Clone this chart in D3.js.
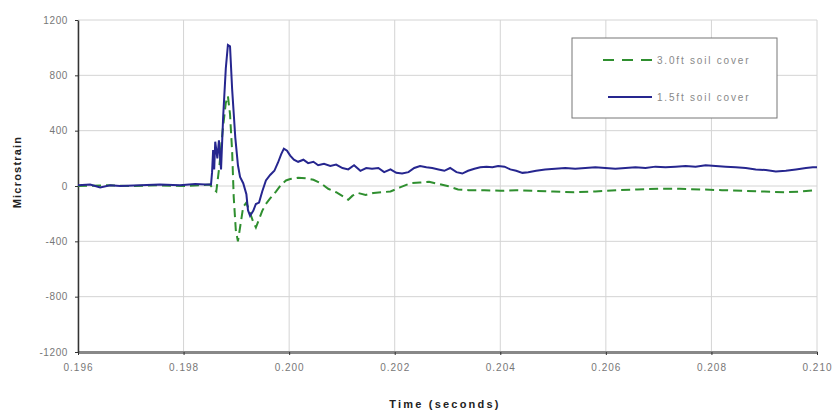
<!DOCTYPE html>
<html>
<head>
<meta charset="utf-8">
<script src="https://cdn.jsdelivr.net/npm/d3@7"></script>
<style>
  body { margin: 0; background: #fff; }
  svg { font-family: "Liberation Sans", Arial, sans-serif; }
</style>
</head>
<body>
<div id="chart-area"></div>
<script>
// series data: [time (s), microstrain]
var cover30 = [
  [0.19600, 0], [0.19650, 5], [0.19700, 0], [0.19750, 5], [0.19800, 0], [0.19850, 10],
  [0.19856, -20], [0.19862, -40], [0.19868, 150], [0.19874, 400], [0.19880, 600],
  [0.19884, 650], [0.19888, 520], [0.19892, 250], [0.19895, -80], [0.19899, -320],
  [0.19903, -400], [0.19907, -300], [0.19913, -150], [0.19919, -120], [0.19926, -195],
  [0.19932, -260], [0.19937, -300], [0.19943, -240], [0.19949, -180], [0.19956, -130],
  [0.19964, -90], [0.19975, -40], [0.19985, 10], [0.19994, 40], [0.20002, 50],
  [0.20017, 60], [0.20032, 55], [0.20046, 45], [0.20060, 20], [0.20074, -20],
  [0.20089, -45], [0.20104, -80], [0.20112, -100], [0.20120, -70], [0.20130, -50],
  [0.20145, -65], [0.20160, -50], [0.20175, -45], [0.20192, -40], [0.20210, -10],
  [0.20230, 20], [0.20248, 25], [0.20265, 30], [0.20283, 15], [0.20300, 0],
  [0.20320, -25], [0.20340, -30], [0.20370, -30], [0.20400, -35], [0.20430, -30],
  [0.20460, -35], [0.20500, -40], [0.20540, -45], [0.20580, -40], [0.20620, -30],
  [0.20660, -25], [0.20700, -20], [0.20740, -20], [0.20780, -25], [0.20820, -30],
  [0.20860, -35], [0.20900, -40], [0.20940, -45], [0.20970, -40], [0.21000, -30]
];

var cover15 = [
  [0.19600, 5], [0.19623, 10], [0.19642, -10], [0.19661, 5], [0.19680, 0],
  [0.19718, 5], [0.19755, 10], [0.19793, 5], [0.19822, 15], [0.19841, 10],
  [0.19852, 10], [0.19854, 100], [0.19856, 260], [0.19858, 120], [0.19860, 320],
  [0.19864, 200], [0.19867, 330], [0.19871, 120], [0.19875, 500], [0.19880, 850],
  [0.19884, 1020], [0.19888, 1010], [0.19892, 700], [0.19898, 350], [0.19903, 150],
  [0.19907, 65], [0.19913, 20], [0.19919, -60], [0.19922, -175], [0.19926, -215],
  [0.19932, -180], [0.19937, -130], [0.19943, -120], [0.19949, -40], [0.19956, 40],
  [0.19964, 80], [0.19972, 110], [0.19979, 170], [0.19985, 230], [0.19990, 270],
  [0.19996, 255], [0.20002, 220], [0.20009, 190], [0.20017, 175], [0.20027, 190],
  [0.20036, 165], [0.20046, 175], [0.20055, 150], [0.20066, 160], [0.20078, 145],
  [0.20089, 155], [0.20101, 130], [0.20112, 120], [0.20123, 150], [0.20135, 110],
  [0.20146, 130], [0.20157, 125], [0.20169, 130], [0.20180, 100], [0.20192, 120],
  [0.20203, 95], [0.20214, 90], [0.20226, 100], [0.20237, 130], [0.20248, 145],
  [0.20260, 135], [0.20271, 130], [0.20283, 120], [0.20294, 110], [0.20305, 130],
  [0.20317, 100], [0.20328, 90], [0.20339, 110], [0.20351, 125], [0.20362, 135],
  [0.20374, 140], [0.20385, 135], [0.20396, 145], [0.20408, 140], [0.20419, 120],
  [0.20430, 110], [0.20442, 95], [0.20453, 100], [0.20468, 110], [0.20485, 120],
  [0.20504, 125], [0.20523, 130], [0.20542, 125], [0.20561, 130], [0.20580, 135],
  [0.20599, 130], [0.20618, 125], [0.20637, 130], [0.20656, 135], [0.20675, 130],
  [0.20694, 140], [0.20713, 135], [0.20732, 140], [0.20751, 145], [0.20770, 140],
  [0.20789, 150], [0.20808, 145], [0.20827, 140], [0.20846, 135], [0.20865, 130],
  [0.20884, 120], [0.20903, 115], [0.20922, 105], [0.20941, 110], [0.20960, 120],
  [0.20979, 130], [0.20992, 135], [0.21000, 135]
];

var xTicks = [0.196, 0.198, 0.200, 0.202, 0.204, 0.206, 0.208, 0.210];
var yTicks = [-1200, -800, -400, 0, 400, 800, 1200];
var seriesNames = ["3.0ft soil cover", "1.5ft soil cover"];

var margin = { left: 78, right: 22, top: 20, bottom: 65 };
var width = 839 - margin.left - margin.right,
    height = 417 - margin.top - margin.bottom;

var svg = d3.select("#chart-area")
    .append("svg")
    .attr("width", 839)
    .attr("height", 417);

var g = svg.append("g")
    .attr("transform", "translate(" + margin.left + "," + margin.top + ")");

var x = d3.scaleLinear().domain([0.196, 0.210]).range([0, width]);
var y = d3.scaleLinear().domain([-1200, 1200]).range([height, 0]);

// grid
g.append("g").selectAll("line.h").data(yTicks).enter().append("line")
    .attr("x1", 0).attr("x2", width)
    .attr("y1", d => y(d)).attr("y2", d => y(d))
    .attr("stroke", "#d4d4d4").attr("stroke-width", 1);
g.append("g").selectAll("line.v").data(xTicks).enter().append("line")
    .attr("x1", d => x(d)).attr("x2", d => x(d))
    .attr("y1", 0).attr("y2", height)
    .attr("stroke", "#d4d4d4").attr("stroke-width", 1);

// axes
var xAxis = d3.axisBottom(x).tickValues(xTicks).tickFormat(d3.format(".3f"))
    .tickSize(3).tickSizeOuter(0).tickPadding(9);
var yAxis = d3.axisLeft(y).tickValues(yTicks).tickFormat(d => d)
    .tickSize(3).tickSizeOuter(0).tickPadding(7);

var gx = g.append("g")
    .attr("transform", "translate(0," + height + ")")
    .call(xAxis);
gx.select(".domain").attr("stroke", "#888").attr("stroke-width", 3);
gx.selectAll("text").attr("letter-spacing", "1px");

var gy = g.append("g").call(yAxis);
gy.select(".domain").attr("stroke", "#333").attr("stroke-width", 1.5);
gy.selectAll("text").attr("letter-spacing", "0.6px");

[gx, gy].forEach(a => {
  a.selectAll("text").attr("font-size", "10px").attr("fill", "#777");
  a.selectAll(".tick line").attr("stroke", "#333");
});

// lines
var line = d3.line().x(d => x(d[0])).y(d => y(d[1]));

g.append("path").datum(cover30)
    .attr("d", line)
    .attr("fill", "none")
    .attr("stroke", "#2f8f2f")
    .attr("stroke-width", 2)
    .attr("stroke-dasharray", "9,5");

g.append("path").datum(cover15)
    .attr("d", line)
    .attr("fill", "none")
    .attr("stroke", "#26268f")
    .attr("stroke-width", 2);

// axis labels
svg.append("text")
    .attr("x", 445).attr("y", 408)
    .attr("text-anchor", "middle")
    .attr("font-size", "11px").attr("font-weight", "bold")
    .attr("letter-spacing", "2.2px")
    .attr("fill", "#222")
    .text("Time (seconds)");

svg.append("text")
    .attr("transform", "translate(21,172) rotate(-90)")
    .attr("text-anchor", "middle")
    .attr("font-size", "11px").attr("font-weight", "bold")
    .attr("letter-spacing", "1.2px")
    .attr("fill", "#222")
    .text("Microstrain");

// legend
var lg = svg.append("g").attr("transform", "translate(572,38)");
lg.append("rect")
    .attr("width", 205).attr("height", 80)
    .attr("fill", "#fff").attr("stroke", "#777").attr("stroke-width", 1);
lg.append("line").attr("x1", 31).attr("x2", 80).attr("y1", 22).attr("y2", 22)
    .attr("stroke", "#2f8f2f").attr("stroke-width", 2).attr("stroke-dasharray", "11,8");
lg.append("line").attr("x1", 36).attr("x2", 80).attr("y1", 59).attr("y2", 59)
    .attr("stroke", "#26268f").attr("stroke-width", 2);
lg.selectAll("text.lbl").data(seriesNames).enter().append("text")
    .attr("x", 85).attr("y", (d, i) => i === 0 ? 26 : 63)
    .attr("font-size", "10px").attr("fill", "#888")
    .attr("letter-spacing", "1.8px")
    .text(d => d);
</script>
</body>
</html>
